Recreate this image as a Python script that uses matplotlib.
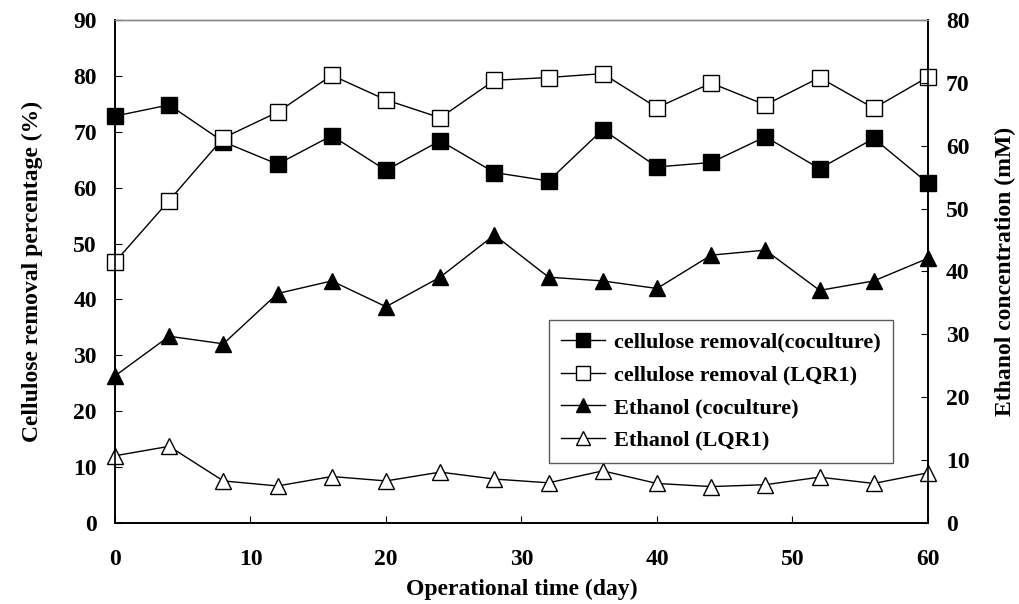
import numpy as np
import matplotlib
matplotlib.use('Agg')
import matplotlib.pyplot as plt

plt.rcParams['font.family'] = ['Liberation Serif', 'DejaVu Serif']
plt.rcParams['font.weight'] = 'bold'

# data
days = [0, 4, 8, 12, 16, 20, 24, 28, 32, 36, 40, 44, 48, 52, 56, 60]
removal_coculture = [72.8, 74.8, 68.2, 64.2, 69.3, 63.1, 68.4, 62.7,
                     61.2, 70.4, 63.7, 64.5, 69.1, 63.4, 68.8, 60.8]
removal_lqr1 = [46.7, 57.7, 68.9, 73.5, 80.1, 75.7, 72.5, 79.2,
                79.7, 80.4, 74.3, 78.7, 74.8, 79.7, 74.2, 79.8]
ethanol_coculture = [23.4, 29.7, 28.5, 36.5, 38.5, 34.4, 39.1, 45.8,
                     39.1, 38.5, 37.3, 42.6, 43.4, 37.0, 38.5, 42.1]
ethanol_lqr1 = [10.7, 12.2, 6.7, 5.9, 7.4, 6.7, 8.1, 7.0,
                6.4, 8.3, 6.3, 5.8, 6.1, 7.3, 6.3, 8.0]

fig, ax = plt.subplots(figsize=(10.2, 6.04), dpi=100)
fig.subplots_adjust(left=0.1127, right=0.9098, bottom=0.134, top=0.967)
ax2 = ax.twinx()

l1, = ax.plot(days, removal_coculture, color='black', lw=1, marker='s', ms=11,
              mfc='black', mec='black', clip_on=False, zorder=3,
              label='cellulose removal(coculture)')
l2, = ax.plot(days, removal_lqr1, color='black', lw=1, marker='s', ms=11,
              mfc='white', mec='black', clip_on=False, zorder=4,
              label='cellulose removal (LQR1)')
l3, = ax2.plot(days, ethanol_coculture, color='black', lw=1, marker='^', ms=11,
               mfc='black', mec='black', clip_on=False,
               label='Ethanol (coculture)')
l4, = ax2.plot(days, ethanol_lqr1, color='black', lw=1, marker='^', ms=11,
               mfc='white', mec='black', clip_on=False,
               label='Ethanol (LQR1)')

ax.set_xlim(0, 60)
ax.set_ylim(0, 90)
ax2.set_ylim(0, 80)
ax.set_xticks(np.arange(0, 61, 10))
ax.set_yticks(np.arange(0, 91, 10))
ax2.set_yticks(np.arange(0, 81, 10))

ax.tick_params(axis='x', direction='in', length=5, pad=19, labelsize=17)
ax.tick_params(axis='y', direction='in', length=5, pad=13, labelsize=17)
ax2.tick_params(axis='y', direction='in', length=5, pad=13, labelsize=17)

for a in (ax, ax2):
    for s in ['left', 'bottom', 'right']:
        a.spines[s].set_color('black')
        a.spines[s].set_linewidth(1.2)
    a.spines['top'].set_color('#888888')
    a.spines['top'].set_linewidth(1)

ax.set_xlabel('Operational time (day)', fontsize=17, fontweight='bold', labelpad=6)
ax.set_ylabel('Cellulose removal percentage (%)', fontsize=17, fontweight='bold', labelpad=22)
ax2.set_ylabel('Ethanol concentration (mM)', fontsize=17, fontweight='bold', labelpad=18)

leg = ax2.legend(handles=[l1, l2, l3, l4], loc='lower right',
                 bbox_to_anchor=(0.957, 0.119), borderaxespad=0,
                 fontsize=16, frameon=True, fancybox=False, handlelength=2.0,
                 labelspacing=0.55, borderpad=0.55, handletextpad=0.4,
                 markerscale=0.9)
leg.get_frame().set_edgecolor('#333333')
leg.get_frame().set_linewidth(1)

fig.savefig('out.png', dpi=100)
